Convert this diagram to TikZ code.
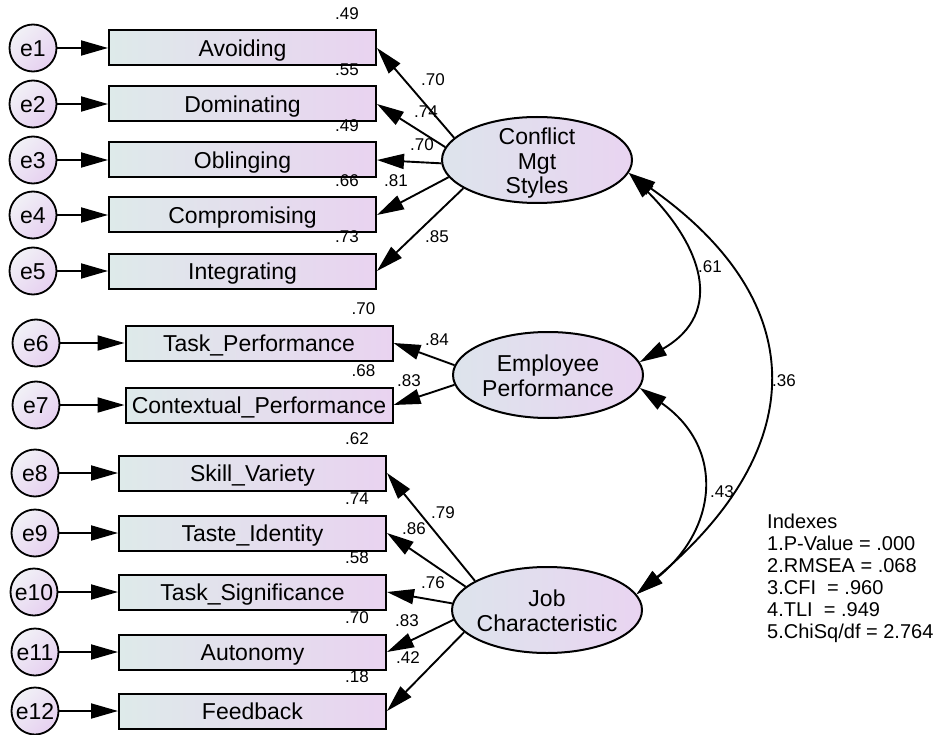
\documentclass[tikz,border=0pt]{standalone}
\usepackage{fontspec}
\setmainfont{Liberation Sans}
\usetikzlibrary{arrows.meta,shapes.geometric}
\definecolor{boxl}{RGB}{222,234,234}
\definecolor{boxr}{RGB}{233,211,240}
\definecolor{ell}{RGB}{221,228,236}
\definecolor{elr}{RGB}{233,212,241}
\definecolor{errt}{RGB}{241,241,246}
\definecolor{errb}{RGB}{230,208,240}
\tikzset{
  obsv/.style={draw,line width=2pt,left color=boxl,right color=boxr,minimum width=267pt,minimum height=35pt,inner sep=0pt,text height=16.5pt,text depth=0pt,font=\fontsize{23}{25}\selectfont},
  err/.style={circle,draw,line width=1.8pt,top color=errt,bottom color=errb,shading angle=45,minimum size=47pt,inner sep=0pt,text height=16.5pt,text depth=0pt,font=\fontsize{23}{25}\selectfont},
  lat/.style={ellipse,draw,line width=2pt,left color=ell,right color=elr,minimum width=190pt,minimum height=86pt,inner sep=0pt,font=\fontsize{23}{24.5}\selectfont},
  num/.style={inner sep=0pt,font=\fontsize{17}{20}\selectfont},
  arr/.style={line width=1.9pt,-{Triangle[length=27pt,width=15pt]}},
  cov/.style={line width=1.9pt,{Triangle[length=27pt,width=15pt]}-{Triangle[length=27pt,width=15pt]}}
}
% text of a latent, kept out of the ellipse size
\newcommand{\ct}[1]{\smash{\makebox[0pt]{\raisebox{-10.5pt}{\begin{tabular}{@{}c@{}}#1\end{tabular}}}}}
% #1 index, #2 error x, #3 y, #4 box x, #5 text, #6 r^2
\newcommand{\ob}[6]{\node[err] (e#1) at (#2,#3) {e#1}; \node[obsv] (v#1) at (#4,#3) {#5};
  \draw[arr] (e#1) -- (v#1); \node[num] (r#1) at ([xshift=-30pt,yshift=16pt]v#1.north east) {#6};}
% #1 start on latent, #2 box, #3 label place, #4 loading
\newcommand{\ld}[4]{\draw[arr] (#1) -- (#2.east); \node[num] (l#2) at (#3) {#4};}

\begin{document}
\begin{tikzpicture}[x=1pt,y=-1pt]
  \useasboundingbox (0,0) rectangle (944,735);
  \ob{1}{33}{48}{242.5}{Avoiding}{.49}                    % conflict
  \ob{2}{33}{104}{242.5}{Dominating}{.55}
  \ob{3}{33}{160}{242.5}{Oblinging}{.49}
  \ob{4}{33}{215}{242.5}{Compromising}{.66}
  \ob{5}{33}{271}{242.5}{Integrating}{.73}
  \ob{6}{36}{343}{259}{Task\_Performance}{.70}            % performance
  \ob{7}{36}{405}{259}{Contextual\_Performance}{.68}
  \ob{8}{35}{473}{252.5}{Skill\_Variety}{.62}             % job
  \ob{9}{35}{533}{252.5}{Taste\_Identity}{.74}
  \ob{10}{34}{592}{252.5}{Task\_Significance}{.58}
  \ob{11}{35}{652}{252.5}{Autonomy}{.70}
  \ob{12}{35}{711}{252.5}{Feedback}{.18}

  \node[lat] (cms) at (537,160) {\ct{Conflict\\Mgt\\Styles}};
  \node[lat] (ep) at (548,375) {\ct{Employee\\Performance}};
  \node[lat] (jc) at (547,610) {\ct{Job\\Characteristic}};

  \ld{cms.165}{v1}{433,80}{.70} \ld{cms.172}{v2}{426,112}{.74} \ld{cms.182}{v3}{422,145}{.70}
  \ld{cms.191}{v4}{396,181}{.81} \ld{cms.201}{v5}{437,237}{.85}
  \ld{ep.174}{v6}{437,340}{.84} \ld{ep.186}{v7}{409,381}{.83}
  \ld{jc.158}{v8}{443,513}{.79} \ld{jc.164}{v9}{414,529}{.86} \ld{jc.176}{v10}{433,583}{.76}
  \ld{jc.186}{v11}{407,621}{.83} \ld{jc.195}{v12}{408,658}{.42}

  \draw[cov] (cms.-8) .. controls +(71,71) and +(87,-50) .. (ep.8);     % .61
  \draw[cov] (ep.-8) .. controls +(86,60) and +(81,-65) .. (jc.10);     % .43
  \draw[cov] (cms.-8) .. controls +(185,130) and +(173,-145) .. (jc.10); % .36
  \node[num] (c61) at (710,267) {.61};
  \node[num] (c43) at (722,492) {.43};
  \node[num] (c36) at (784,381) {.36};

  \node[anchor=north west,align=left,inner sep=0pt,font=\fontsize{20}{22}\selectfont] (idx) at (767,514)
    {Indexes\\1.P-Value = .000\\2.RMSEA = .068\\3.CFI\ \ = .960\\4.TLI\ \ = .949\\5.ChiSq/df = 2.764};
\end{tikzpicture}
\end{document}
